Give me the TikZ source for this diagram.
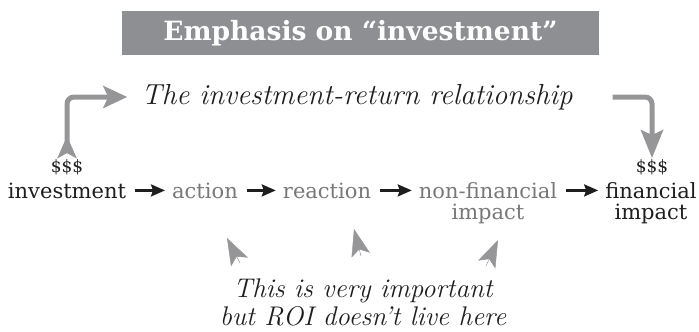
\documentclass[tikz,border=0pt]{standalone}
\usepackage{fontspec}
\newfontfamily\slab{DejaVu Serif}
\usetikzlibrary{arrows.meta, positioning, calc}

\definecolor{boxgray}{RGB}{142,143,147}
\definecolor{arrowgray}{RGB}{150,150,152}
\definecolor{softtext}{RGB}{120,120,122}
\definecolor{inktext}{RGB}{30,30,30}

\tikzset{
  titlebox/.style={fill=boxgray, text=white, minimum width=477pt, minimum height=44pt,
    inner sep=0pt, font=\slab\bfseries\fontsize{26.5}{30}\selectfont},
  hand/.style={inner sep=0pt, font=\itshape\fontsize{29}{30}\selectfont, text=inktext},
  money/.style={inner sep=1pt, text=inktext, font=\slab\fontsize{17}{19}\selectfont},
  term/.style={inner sep=1pt, text=inktext, align=center, anchor=base,
    font=\slab\fontsize{21}{21}\selectfont},
  soft/.style={term, text=softtext},
  flow/.style={-{Stealth[length=14pt,width=12pt,inset=2pt]}, line width=2.4pt, inktext,
    shorten <=8pt, shorten >=6pt},
  bigarrow/.style={line width=5pt, arrowgray, rounded corners=7pt},
  pointer/.style={-{Stealth[length=27pt,width=19pt,inset=6pt]}, line width=0.5pt, arrowgray}
}

\begin{document}
\begin{tikzpicture}[x=1pt, y=-1pt]
  \useasboundingbox (0,0) rectangle (699,332);

  \node[titlebox] (title) at (360.5,33) {Emphasis on “investment”};
  \node[hand] (relation) at (357,97) {The investment-return relationship};

  % the chain
  \node[term] (inv) at (67,198) {investment};
  \node[soft] (action) at (205,198) {action};
  \node[soft] (reaction) at (327,198) {reaction};
  \node[soft] (nonfin) at (488,219) {non-financial\\impact};
  \node[term] (fin) at (651,219) {financial\\impact};
  \node[money] (cash1) at (67,167) {\$\$\$};
  \node[money] (cash2) at (652,167) {\$\$\$};

  \draw[flow] (inv) -- (action);
  \draw[flow] (action) -- (reaction);
  \draw[flow] (reaction) -- (reaction -| nonfin.west);
  \draw[flow] (reaction -| nonfin.east) -- (reaction -| fin.west);

  % return loop
  \draw[bigarrow, {Stealth[reversed,length=22pt,width=19pt,inset=5pt]}-{Stealth[length=24pt,width=22pt,inset=5pt]},
        shorten >=14pt] (cash1.north) |- (relation.west);
  \draw[bigarrow, -{Stealth[length=28pt,width=22pt,inset=5pt]}, shorten <=40pt]
        (relation.east) -| (cash2.north);

  % the note
  \node[hand, align=center, font=\itshape\fontsize{27}{28}\selectfont] (note) at (363,302)
    {This is very important\\but ROI doesn't live here};
  \coordinate (p1s) at (240,263);
  \coordinate (p1e) at (227,238);
  \coordinate (p2s) at (361,256);
  \coordinate (p2e) at (354,229);
  \coordinate (p3s) at (486,266);
  \coordinate (p3e) at (498,240);
  \draw[pointer] (p1s) -- (p1e);
  \draw[pointer] (p2s) -- (p2e);
  \draw[pointer] (p3s) -- (p3e);
\end{tikzpicture}
\end{document}
